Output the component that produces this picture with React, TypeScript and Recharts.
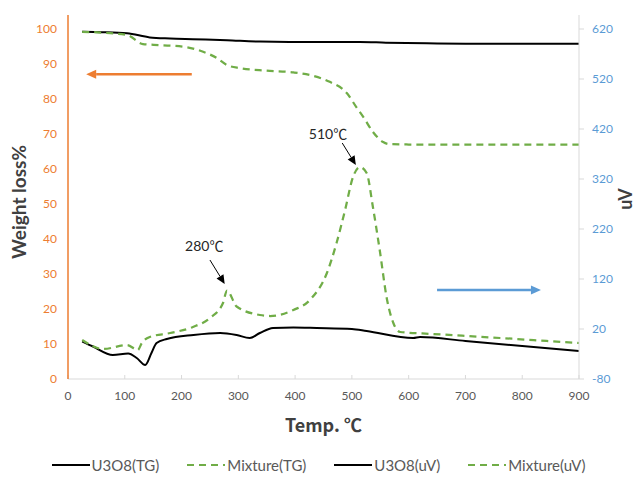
import { LineChart, Line, XAxis, YAxis, Legend, ReferenceLine, ReferenceDot } from "recharts";

const tempTicks = [0, 100, 200, 300, 400, 500, 600, 700, 800, 900];
const weightTicks = [0, 10, 20, 30, 40, 50, 60, 70, 80, 90, 100];
const uvTicks = [-80, 20, 120, 220, 320, 420, 520, 620];
const seriesNames = ["U3O8(TG)", "Mixture(TG)", "U3O8(uV)", "Mixture(uV)"];

// TG curves (left axis, %)
const u3o8TgTemp = [25, 60, 104, 144, 180, 220, 280, 338, 420, 514, 560, 632, 700, 800, 900];
const u3o8TgValue = [99.2, 99.1, 98.8, 97.6, 97.3, 97.1, 96.8, 96.4, 96.3, 96.3, 96.1, 95.9, 95.8, 95.8, 95.8];

const mixTgTemp = [25, 74, 104, 132, 162, 209, 238, 262, 280, 303, 350, 397, 432, 461, 491, 509, 520, 537, 555, 567, 600, 700, 800, 900];
const mixTgValue = [99.2, 98.8, 98.3, 95.7, 95.4, 94.8, 93.5, 91.7, 89.7, 88.8, 88.1, 87.6, 86.6, 84.9, 81.7, 77.4, 74.9, 70.6, 67.7, 67.1, 67.0, 67.0, 67.0, 67.0];

// DTA curves (right axis, uV)
const u3o8UvTemp = [25, 44, 79, 106, 121, 136, 147, 156, 174, 221, 268, 297, 320, 338, 361, 397, 438, 500, 526, 608, 620, 700, 820, 900];
const u3o8UvValue = [-5, -15, -32, -29, -38, -52, -28, -8, 0, 8, 12, 8, 2, 12, 22, 23, 22, 20, 16, 2, 4, -4, -16, -24];

const mixUvTemp = [25, 62, 104, 123, 130, 144, 180, 220, 250, 273, 280, 297, 338, 356, 397, 426, 456, 473, 488, 502, 514, 526, 537, 549, 562, 573, 585, 643, 761, 900];
const mixUvValue = [-2, -20, -12, -22, -8, 4, 12, 24, 42, 72, 97, 65, 48, 46, 58, 78, 132, 192, 258, 324, 344, 332, 264, 178, 78, 32, 14, 10, 2, -8];

const toPoints = (t: number[], v: number[]) => t.map((x, i) => ({ temp: x, value: v[i] }));

const FONT = "Lato, 'Noto Sans CJK SC', sans-serif";
const CJK = "'Noto Sans CJK SC', Lato, sans-serif";
const GREEN = "#70AD47";
const ORANGE = "#ED7D31";
const BLUE = "#5B9BD5";
const DASH = "7 5";

const dashByName: Record<string, string | undefined> = {
  "U3O8(TG)": undefined,
  "Mixture(TG)": DASH,
  "U3O8(uV)": undefined,
  "Mixture(uV)": DASH,
};

const arrowShape = (color: string, width: number, head: number) => (props: any) => {
  const { x1, y1, x2, y2 } = props;
  if ([x1, y1, x2, y2].some((v) => typeof v !== "number")) return <g />;
  const a = Math.atan2(y2 - y1, x2 - x1);
  const bx = x2 - head * Math.cos(a);
  const by = y2 - head * Math.sin(a);
  const w = head * 0.45;
  const p1 = `${bx + w * Math.sin(a)},${by - w * Math.cos(a)}`;
  const p2 = `${bx - w * Math.sin(a)},${by + w * Math.cos(a)}`;
  return (
    <g>
      <line x1={x1} y1={y1} x2={bx} y2={by} stroke={color} strokeWidth={width} />
      <polygon points={`${x2},${y2} ${p1} ${p2}`} fill={color} />
    </g>
  );
};

// peak label: number in Lato, degree sign in the CJK face (wide ℃ like the original)
const textShape = (num: string) => (props: any) => (
  <text x={props.cx} y={props.cy} textAnchor="middle" dominantBaseline="central" fontFamily={FONT} fontSize={14} fill="#262626">
    {num}
    <tspan fontFamily={CJK}>℃</tspan>
  </text>
);

const renderLegend = (props: any) => {
  const items = [...(props.payload || [])].sort(
    (a: any, b: any) => seriesNames.indexOf(a.value) - seriesNames.indexOf(b.value)
  );
  return (
    <div style={{ display: "flex", justifyContent: "center", alignItems: "center", height: 30, fontFamily: FONT, fontSize: 15, color: "#595959" }}>
      {items.map((e: any) => (
        <div key={e.value} style={{ display: "flex", alignItems: "center", margin: "0 14px" }}>
          <svg width={38} height={10}>
            <line x1={0} y1={5} x2={38} y2={5} stroke={e.color} strokeWidth={2} strokeDasharray={dashByName[e.value]} />
          </svg>
          <span style={{ marginLeft: 2 }}>{e.value}</span>
        </div>
      ))}
    </div>
  );
};

const App = () => {
  return (
    <div style={{ position: "absolute", left: 0, top: 0, background: "#fff" }}>
      <LineChart width={637} height={480} margin={{ top: 15, right: 0, left: 0, bottom: 0 }}>
        <XAxis
          dataKey="temp"
          type="number"
          domain={[0, 900]}
          ticks={tempTicks}
          allowDuplicatedCategory={false}
          height={71}
          stroke="#D9D9D9"
          tickSize={-4}
          tickMargin={16}
          tick={{ fill: "#595959", fontSize: 12, fontFamily: FONT }}
          label={{ value: "Temp. ℃", position: "insideBottom", offset: 18, style: { fill: "#404040", fontSize: 18, fontWeight: 700, fontFamily: CJK } }}
        />
        <YAxis
          yAxisId="left"
          domain={[0, 104]}
          ticks={weightTicks}
          width={68}
          axisLine={{ stroke: ORANGE, strokeWidth: 1.5 }}
          tickLine={false}
          tickMargin={5}
          tick={{ fill: ORANGE, fontSize: 12, fontFamily: FONT }}
          label={{ value: "Weight loss%", angle: -90, position: "center", dx: -15, dy: 5, style: { fill: "#404040", fontSize: 19, fontWeight: 700, fontFamily: FONT } }}
        />
        <YAxis
          yAxisId="right"
          orientation="right"
          domain={[-80, 648]}
          ticks={uvTicks}
          width={58}
          axisLine={{ stroke: "#D9D9D9" }}
          tickLine={{ stroke: "#D9D9D9" }}
          tickSize={5}
          tickMargin={8}
          tick={{ fill: BLUE, fontSize: 12, fontFamily: FONT, textAnchor: "start" }}
          label={{ value: "uV", angle: -90, position: "center", dx: 18, dy: 2, style: { fill: "#404040", fontSize: 18, fontWeight: 700, fontFamily: FONT } }}
        />
        <Legend verticalAlign="bottom" content={renderLegend} />

        <Line yAxisId="left" name="U3O8(TG)" data={toPoints(u3o8TgTemp, u3o8TgValue)} dataKey="value" type="monotone" stroke="#000" strokeWidth={2} dot={false} isAnimationActive={false} />
        <Line yAxisId="left" name="Mixture(TG)" data={toPoints(mixTgTemp, mixTgValue)} dataKey="value" type="monotone" stroke={GREEN} strokeWidth={2.25} strokeDasharray={DASH} dot={false} isAnimationActive={false} />
        <Line yAxisId="right" name="U3O8(uV)" data={toPoints(u3o8UvTemp, u3o8UvValue)} dataKey="value" type="monotone" stroke="#000" strokeWidth={2} dot={false} isAnimationActive={false} />
        <Line yAxisId="right" name="Mixture(uV)" data={toPoints(mixUvTemp, mixUvValue)} dataKey="value" type="monotone" stroke={GREEN} strokeWidth={2.25} strokeDasharray={DASH} dot={false} isAnimationActive={false} />

        <ReferenceLine yAxisId="left" segment={[{ x: 218, y: 87.1 }, { x: 32, y: 87.1 }]} shape={arrowShape(ORANGE, 2.5, 10)} />
        <ReferenceLine yAxisId="right" segment={[{ x: 650, y: 98 }, { x: 833, y: 98 }]} shape={arrowShape(BLUE, 2.5, 10)} />
        <ReferenceLine yAxisId="right" segment={[{ x: 250, y: 158 }, { x: 276, y: 110 }]} shape={arrowShape("#000", 1, 9)} />
        <ReferenceLine yAxisId="right" segment={[{ x: 483, y: 392 }, { x: 507, y: 348 }]} shape={arrowShape("#000", 1, 9)} />
        <ReferenceDot yAxisId="right" x={240} y={188} r={0} shape={textShape("280")} />
        <ReferenceDot yAxisId="right" x={458} y={412} r={0} shape={textShape("510")} />
      </LineChart>
    </div>
  );
};

export default App;
